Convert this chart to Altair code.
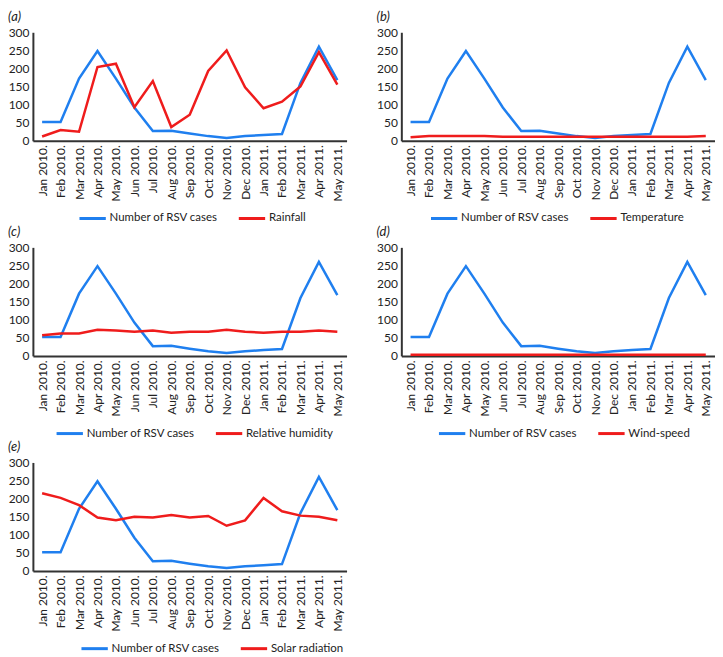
import altair as alt
import pandas as pd

months = ["Jan 2010.", "Feb 2010.", "Mar 2010.", "Apr 2010.", "May 2010.", "Jun 2010.",
          "Jul 2010.", "Aug 2010.", "Sep 2010.", "Oct 2010.", "Nov 2010.", "Dec 2010.",
          "Jan 2011.", "Feb 2011.", "Mar 2011.", "Apr 2011.", "May 2011."]

rsv_cases = [52, 52, 172, 248, 172, 92, 27, 28, 20, 13, 8, 13, 16, 19, 160, 260, 168]
rainfall = [12, 30, 25, 204, 213, 93, 165, 38, 72, 193, 250, 148, 90, 108, 150, 245, 155]
temperature = [10, 13, 13, 13, 13, 11, 11, 11, 11, 11, 11, 11, 11, 11, 11, 11, 13]
humidity = [57, 62, 62, 72, 70, 67, 70, 64, 67, 67, 72, 67, 64, 67, 67, 70, 67]
wind_speed = [3, 3, 3, 3, 3, 3, 3, 3, 3, 3, 3, 3, 3, 3, 3, 3, 3]
solar_radiation = [215, 202, 182, 148, 140, 150, 148, 155, 148, 152, 125, 140, 202, 165, 153, 150, 140]

y_ticks = [0, 50, 100, 150, 200, 250, 300]

BLUE = "#1f7fef"
RED = "#ef1c1c"
FONT = "Lato"
RSV = "Number of RSV cases"
W, H = 315, 109


def panel(letter, name, values, legend_x):
    df = pd.DataFrame({
        "month": months * 2,
        "value": rsv_cases + values,
        "series": [RSV] * len(months) + [name] * len(months),
    })
    return alt.Chart(
        df,
        title=alt.Title(f"({letter})", anchor="start", frame="bounds", fontStyle="italic",
                        fontWeight="normal", fontSize=13, font=FONT, color="#222", offset=2),
    ).mark_line(strokeWidth=2.5).encode(
        x=alt.X("month:N", sort=months,
                axis=alt.Axis(title=None, labelAngle=-90, ticks=False, labelPadding=4,
                              domainColor="#333", domainWidth=2, labelFont=FONT,
                              labelFontSize=12, labelColor="#222")),
        y=alt.Y("value:Q", scale=alt.Scale(domain=[0, 300], nice=False),
                axis=alt.Axis(title=None, values=y_ticks, grid=False, ticks=False,
                              labelPadding=4, domainColor="#333", domainWidth=2,
                              labelFont=FONT, labelFontSize=12, labelColor="#222")),
        color=alt.Color("series:N", sort=[RSV, name],
                        scale=alt.Scale(domain=[RSV, name], range=[BLUE, RED]),
                        legend=alt.Legend(orient="none", legendX=legend_x, legendY=172,
                                          direction="horizontal", title=None,
                                          symbolType="stroke", symbolStrokeWidth=3,
                                          symbolSize=700, labelFont=FONT, labelFontSize=11.5,
                                          labelOffset=2, labelColor="#222", columnPadding=14)),
        detail="series:N",
    ).properties(width=W, height=H)


pa = panel("a", "Rainfall", rainfall, 45)
pb = panel("b", "Temperature", temperature, 28)
pc = panel("c", "Relative humidity", humidity, 22)
pd_ = panel("d", "Wind-speed", wind_speed, 36)
pe = panel("e", "Solar radiation", solar_radiation, 47)

row1 = alt.hconcat(pa, pb, spacing=30).resolve_scale(color="independent").resolve_legend(color="independent")
row2 = alt.hconcat(pc, pd_, spacing=30).resolve_scale(color="independent").resolve_legend(color="independent")

chart = alt.vconcat(row1, row2, pe, spacing=2).resolve_scale(
    color="independent").resolve_legend(color="independent").properties(
    padding={"left": 0, "top": 2, "right": 0, "bottom": 0}
).configure_view(stroke=None)

chart.save("out.html", embed_options={"renderer": "svg", "actions": False})
